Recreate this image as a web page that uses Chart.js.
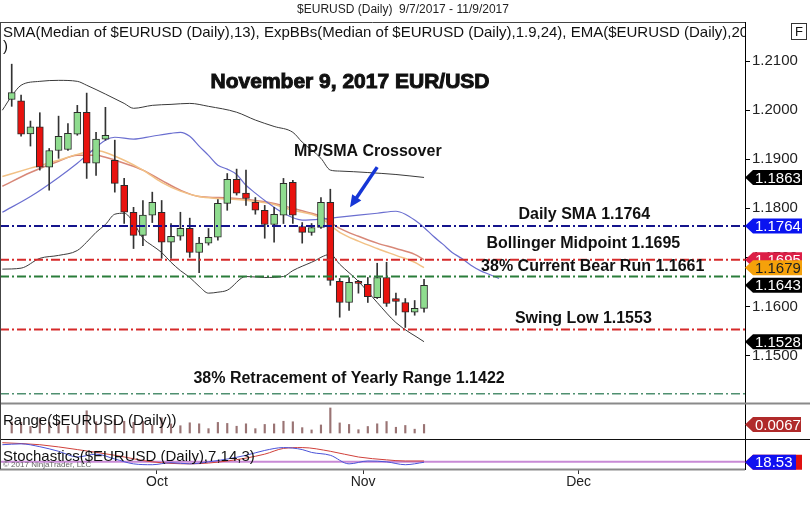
<!DOCTYPE html>
<html>
<head>
<meta charset="utf-8">
<script src="https://cdn.jsdelivr.net/npm/chart.js@4.4.0/dist/chart.umd.min.js"></script>
<style>
  html, body { margin: 0; padding: 0; background: #fff; }
  canvas { display: block; }
</style>
</head>
<body>
<canvas id="myChart" width="810" height="528" style="width:810px;height:528px"></canvas>
<script>
const fuente = '"Liberation Sans", Arial, sans-serif';
Chart.defaults.font.family = fuente;

// fechas de cada vela (eje x = índice de la vela)
const fechas = ["7/9","8/9","11/9","12/9","13/9","14/9","15/9","18/9","19/9","20/9","21/9","22/9","25/9","26/9","27/9","28/9","29/9",
  "2/10","3/10","4/10","5/10","6/10","9/10","10/10","11/10","12/10","13/10","16/10","17/10","18/10","19/10","20/10","23/10","24/10","25/10","26/10","27/10","30/10","31/10",
  "1/11","2/11","3/11","6/11","7/11","8/11","9/11"];

// marcas de mes (entre la última vela de un mes y la primera del siguiente)
const meses = ["Oct", "Nov", "Dec"];
const mesesPos = [16.5, 38.5, 61.5];

// velas diarias EUR/USD
const aperturas = [null, 1.2022, 1.2019, 1.1952, 1.1966, 1.1884, 1.1918, 1.1920, 1.1951, 1.1996,
  1.1892, 1.1941, 1.1898, 1.1847, 1.1792, 1.1745, 1.1786, 1.1792, 1.1731, 1.1743,
  1.1759, 1.1710, 1.1729, 1.1741, 1.1810, 1.1859, 1.1831, 1.1812, 1.1796, 1.1767,
  1.1786, 1.1853, 1.1763, 1.1751, 1.1761, 1.1812, 1.1651, 1.1608, 1.1651, 1.1645,
  1.1618, 1.1659, 1.1616, 1.1608, 1.1588, 1.1596];
const maximos = [null, 1.2094, 1.2031, 1.1978, 1.1995, 1.1922, 1.1988, 1.1973, 1.2010, 1.2035,
  1.1955, 1.2006, 1.1939, 1.1861, 1.1802, 1.1816, 1.1833, 1.1816, 1.1769, 1.1792,
  1.1780, 1.1741, 1.1759, 1.1818, 1.1871, 1.1880, 1.1878, 1.1822, 1.1806, 1.1802,
  1.1861, 1.1857, 1.1771, 1.1769, 1.1822, 1.1839, 1.1657, 1.1659, 1.1653, 1.1659,
  1.1688, 1.1690, 1.1627, 1.1616, 1.1612, 1.1655];
const minimos = [null, 1.2008, 1.1947, 1.1927, 1.1878, 1.1837, 1.1902, 1.1918, 1.1949, 1.1861,
  1.1867, 1.1939, 1.1833, 1.1769, 1.1718, 1.1724, 1.1771, 1.1698, 1.1698, 1.1735,
  1.1700, 1.1669, 1.1725, 1.1735, 1.1796, 1.1827, 1.1806, 1.1788, 1.1739, 1.1731,
  1.1769, 1.1769, 1.1729, 1.1745, 1.1759, 1.1643, 1.1578, 1.1592, 1.1627, 1.1608,
  1.1616, 1.1600, 1.1582, 1.1557, 1.1582, 1.1588];
const cierres = [null, 1.2036, 1.1951, 1.1966, 1.1884, 1.1918, 1.1947, 1.1953, 1.1996, 1.1892,
  1.1941, 1.1949, 1.1851, 1.1792, 1.1745, 1.1786, 1.1812, 1.1731, 1.1743, 1.1759,
  1.1710, 1.1729, 1.1741, 1.1810, 1.1859, 1.1831, 1.1820, 1.1796, 1.1767, 1.1788,
  1.1851, 1.1786, 1.1751, 1.1761, 1.1812, 1.1653, 1.1608, 1.1649, 1.1647, 1.1620,
  1.1659, 1.1606, 1.1610, 1.1588, 1.1596, 1.1643];

// indicadores (null = no leído, la línea une los puntos)
const bandaSup = [1.2000, 1.2029, 1.2051, null, 1.2059, null, 1.2061, null, 1.2059, 1.2051,
  null, 1.2033, null, 1.2014, 1.2004, null, 1.2010, null, 1.2012, null,
  1.2014, null, 1.2008, null, null, 1.1996, null, 1.1980, null, 1.1967,
  null, 1.1955, 1.1935, null, 1.1902, 1.1878, 1.1876, null, null, 1.1873,
  null, null, 1.1869, null, null, 1.1863];
const bandaInf = [1.1676, null, 1.1678, null, 1.1698, null, 1.1704, null, 1.1714, 1.1731,
  1.1751, 1.1767, 1.1788, 1.1790, 1.1771, 1.1739, 1.1724, 1.1710, 1.1690, 1.1673,
  1.1659, 1.1641, 1.1627, 1.1629, 1.1633, null, 1.1661, null, 1.1659, null,
  1.1661, 1.1673, null, 1.1690, null, 1.1706, 1.1686, null, 1.1651, null,
  1.1608, null, 1.1567, null, null, 1.1528];
const mediaBB = [1.1845, null, null, 1.1873, null, null, 1.1896, null, 1.1908, null,
  1.1908, 1.1904, null, 1.1892, null, 1.1878, null, 1.1857, null, 1.1837,
  null, 1.1824, null, 1.1822, null, 1.1820, null, 1.1816, null, 1.1810,
  null, 1.1800, null, 1.1790, 1.1784, null, 1.1759, null, 1.1743, null,
  1.1729, null, 1.1718, null, 1.1706, 1.1695];
const emaNaranja = [1.1865, null, null, 1.1882, null, null, 1.1898, null, 1.1910, null,
  1.1918, 1.1914, null, 1.1898, null, 1.1878, null, 1.1853, null, 1.1835,
  null, 1.1824, null, 1.1820, null, 1.1818, null, 1.1814, null, 1.1808,
  null, 1.1796, null, 1.1788, 1.1780, null, 1.1751, null, 1.1733, null,
  1.1718, null, 1.1704, null, 1.1690, 1.1679];
// SMA desplazada: sigue 8 velas más allá de la última
const smaAzul = [1.1792, null, null, 1.1824, null, null, 1.1863, null, 1.1892, 1.1908,
  null, 1.1939, 1.1945, null, 1.1941, null, 1.1947, null, 1.1953, 1.1955,
  1.1947, 1.1927, 1.1908, 1.1888, 1.1880, 1.1869, 1.1847, 1.1831, 1.1816, null,
  1.1790, null, 1.1776, null, 1.1778, null, 1.1782, null, 1.1786, null,
  1.1790, null, 1.1794, 1.1788, 1.1776, 1.1761, 1.1743, 1.1727, 1.1710, 1.1698,
  1.1684, 1.1673, 1.1665, 1.1657];

// panel Range
const rangos = [null, 0.0086, 0.0084, 0.0051, 0.0117, 0.0085, 0.0086, 0.0055, 0.0061, 0.0174,
  0.0088, 0.0067, 0.0106, 0.0092, 0.0084, 0.0092, 0.0062, 0.0118, 0.0071, 0.0057,
  0.0080, 0.0072, 0.0034, 0.0083, 0.0075, 0.0053, 0.0072, 0.0034, 0.0067, 0.0071,
  0.0092, 0.0088, 0.0042, 0.0024, 0.0063, 0.0196, 0.0079, 0.0067, 0.0026, 0.0051,
  0.0072, 0.0090, 0.0045, 0.0059, 0.0030, 0.0067];

// panel Stochastics
const stochK = [80, null, 83, null, 73, null, 57, null, 37, null,
  47, null, 30, null, 13, null, 10, null, 17, null,
  13, null, 20, null, 30, null, 43, null, 60, null,
  70, null, 63, 53, null, 43, null, 13, null, 23,
  null, 20, null, 10, null, 18.53];
const stochD = [87, null, null, null, 80, null, null, null, 63, null,
  null, null, 43, null, null, null, 20, null, null, null,
  13, null, null, null, 23, null, null, null, 47, null,
  67, null, 70, null, null, 57, null, null, 37, null,
  null, 27, null, 23, null, 23];
const nivelStoch = 20;

// niveles horizontales marcados
const nivelesNombres = ["Daily SMA", "Bollinger Midpoint", "38% Current Bear Run", "Swing Low", "38% Retracement of Yearly Range"];
const nivelesValores = [1.1764, 1.1695, 1.1661, 1.1553, 1.1422];

// etiquetas de valor en el eje derecho
const etiquetasValores = [1.1863, 1.1764, 1.1695, 1.1679, 1.1643, 1.1528];
const etiquetaRango = 0.0067;
const etiquetaStoch = 18.53;

const ejeXMin = -0.25;
const ejeXMax = 79.25;

//función que convierte una serie con huecos en puntos {x, y}
function puntos(serie) {
  return serie.map((v, i) => (v === null ? null : { x: i, y: v })).filter((p) => p);
}

const cuerpos = aperturas.map((o, i) => (o === null ? null : { x: i, y: [o, cierres[i]] })).filter((p) => p);
const mechas = maximos.map((h, i) => (h === null ? null : { x: i, y: [minimos[i], h] })).filter((p) => p);

const estilosNiveles = [
  { color: "#14148c", ancho: 2 },
  { color: "#d62a2a", ancho: 2 },
  { color: "#2a7d3a", ancho: 2 },
  { color: "#d62a2a", ancho: 2 },
  { color: "#4f9070", ancho: 1.5 },
];

const datasetsNiveles = nivelesValores.map((v, i) => ({
  type: "line",
  data: [{ x: ejeXMin, y: v }, { x: ejeXMax, y: v }],
  borderColor: estilosNiveles[i].color,
  borderWidth: estilosNiveles[i].ancho,
  borderDash: [9, 3, 2, 3],
  pointRadius: 0,
  yAxisID: "y",
  order: 0,
}));

function lineaIndicador(serie, color, ancho, eje) {
  return {
    type: "line",
    data: puntos(serie),
    borderColor: color,
    borderWidth: ancho,
    pointRadius: 0,
    cubicInterpolationMode: "monotone",
    yAxisID: eje,
    order: 3,
  };
}

//función que dibuja una etiqueta con punta hacia el eje
function etiqueta(ctx, x0, yc, texto, fondo, colorTexto, ancho) {
  const h = 15;
  ctx.beginPath();
  ctx.moveTo(x0, yc);
  ctx.lineTo(x0 + 8, yc - h / 2);
  ctx.lineTo(x0 + ancho, yc - h / 2);
  ctx.lineTo(x0 + ancho, yc + h / 2);
  ctx.lineTo(x0 + 8, yc + h / 2);
  ctx.closePath();
  ctx.fillStyle = fondo;
  ctx.fill();
  ctx.fillStyle = colorTexto;
  ctx.font = "15px " + fuente;
  ctx.textAlign = "left";
  ctx.textBaseline = "middle";
  ctx.fillText(texto, x0 + 10, yc + 1);
}

function linea(ctx, x1, x2, y, color, ancho) {
  ctx.beginPath();
  ctx.moveTo(x1, y);
  ctx.lineTo(x2, y);
  ctx.strokeStyle = color;
  ctx.lineWidth = ancho;
  ctx.stroke();
}

// posiciones de textos en unidades del gráfico (índice de vela, precio)
const notas = [
  { texto: "November 9, 2017 EUR/USD", x: 37.1, y: 1.2058, tam: 21, grueso: 1 },
  { texto: "MP/SMA Crossover", x: 39.0, y: 1.1915, tam: 16, grueso: 0 },
];
const notasNiveles = [
  { x: 62.1, y: 1.1787 },
  { x: 62.0, y: 1.1729 },
  { x: 63.0, y: 1.1682 },
  { x: 62.0, y: 1.1576 },
  { x: 37.0, y: 1.1452 },
];
const flecha = { x1: 40.0, y1: 1.1884, x2: 37.1, y2: 1.1802 };

const decoracion = {
  id: "decoracion",
  afterDraw(chart) {
    const ctx = chart.ctx;
    const area = chart.chartArea;
    const sx = chart.scales.x;
    const sy = chart.scales.y;
    const sr = chart.scales.yR;
    const ss = chart.scales.yS;
    const W = chart.width;
    ctx.save();

    // bordes de paneles
    linea(ctx, 0, area.right, sy.top + 0.5, "#444", 1);
    linea(ctx, 0, W, sy.bottom + 0.5, "#8a8a8a", 2);
    linea(ctx, 0, W, sr.bottom + 0.5, "#111", 1);
    linea(ctx, 0, area.right, ss.bottom + 0.5, "#8a8a8a", 2);
    ctx.beginPath();
    ctx.moveTo(0.5, sy.top);
    ctx.lineTo(0.5, ss.bottom);
    ctx.strokeStyle = "#444";
    ctx.lineWidth = 1;
    ctx.stroke();

    // título superior
    ctx.fillStyle = "#222";
    ctx.font = "12px " + fuente;
    ctx.textAlign = "center";
    ctx.textBaseline = "middle";
    ctx.fillText("$EURUSD (Daily)  9/7/2017 - 11/9/2017", 403, 10);

    // leyenda de indicadores
    ctx.save();
    ctx.beginPath();
    ctx.rect(0, 0, area.right, chart.height);
    ctx.clip();
    ctx.fillStyle = "#111";
    ctx.font = "15px " + fuente;
    ctx.textAlign = "left";
    ctx.fillText("SMA(Median of $EURUSD (Daily),13), ExpBBs(Median of $EURUSD (Daily),1.9,24), EMA($EURUSD (Daily),20", 3, 33);
    ctx.fillText(")", 3, 47);
    ctx.fillText("Range($EURUSD (Daily))", 3, 421);
    ctx.fillText("Stochastics($EURUSD (Daily),7,14,3)", 3, 457);
    ctx.fillStyle = "#666";
    ctx.font = "8px " + fuente;
    ctx.fillText("\u00a9 2017 NinjaTrader, LLC", 3, 465);
    ctx.restore();

    // recuadro "F"
    ctx.strokeStyle = "#333";
    ctx.lineWidth = 1;
    ctx.strokeRect(791.5, 23.5, 15, 16);
    ctx.fillStyle = "#111";
    ctx.font = "13px " + fuente;
    ctx.textAlign = "center";
    ctx.fillText("F", 799, 32);

    // textos
    ctx.textAlign = "center";
    ctx.textBaseline = "middle";
    ctx.fillStyle = "#111";
    ctx.strokeStyle = "#111";
    notas.forEach((n) => {
      ctx.font = "bold " + n.tam + "px " + fuente;
      const px = sx.getPixelForValue(n.x), py = sy.getPixelForValue(n.y);
      ctx.fillText(n.texto, px, py);
      if (n.grueso) {
        ctx.lineWidth = n.grueso;
        ctx.strokeText(n.texto, px, py);
      }
    });
    ctx.font = "bold 16px " + fuente;
    nivelesNombres.forEach((nombre, i) => {
      const p = notasNiveles[i];
      ctx.fillText(nombre + " " + nivelesValores[i].toFixed(4), sx.getPixelForValue(p.x), sy.getPixelForValue(p.y));
    });

    // flecha azul
    const ax1 = sx.getPixelForValue(flecha.x1), ay1 = sy.getPixelForValue(flecha.y1);
    const ax2 = sx.getPixelForValue(flecha.x2), ay2 = sy.getPixelForValue(flecha.y2);
    const ang = Math.atan2(ay2 - ay1, ax2 - ax1);
    ctx.strokeStyle = "#1636d6";
    ctx.fillStyle = "#1636d6";
    ctx.lineWidth = 3.5;
    ctx.beginPath();
    ctx.moveTo(ax1, ay1);
    ctx.lineTo(ax2 - 8 * Math.cos(ang), ay2 - 8 * Math.sin(ang));
    ctx.stroke();
    ctx.beginPath();
    ctx.moveTo(ax2, ay2);
    ctx.lineTo(ax2 - 12 * Math.cos(ang) + 5.5 * Math.sin(ang), ay2 - 12 * Math.sin(ang) - 5.5 * Math.cos(ang));
    ctx.lineTo(ax2 - 12 * Math.cos(ang) - 5.5 * Math.sin(ang), ay2 - 12 * Math.sin(ang) + 5.5 * Math.cos(ang));
    ctx.closePath();
    ctx.fill();

    // etiquetas de valor
    const x0 = area.right;
    const coloresEtiquetas = [
      ["#000", "#fff"], ["#0a14f0", "#fff"], ["#dc1e46", "#fff"],
      ["#f5a10a", "#222"], ["#000", "#fff"], ["#000", "#fff"],
    ];
    etiquetasValores.forEach((v, i) => {
      etiqueta(ctx, x0, sy.getPixelForValue(v), v.toFixed(4), coloresEtiquetas[i][0], coloresEtiquetas[i][1], 57);
    });
    etiqueta(ctx, x0, sr.getPixelForValue(etiquetaRango), etiquetaRango.toFixed(4), "#b02a2a", "#fff", 56);
    etiqueta(ctx, x0, ss.getPixelForValue(etiquetaStoch), "", "#e01010", "#fff", 57);
    etiqueta(ctx, x0, ss.getPixelForValue(etiquetaStoch), etiquetaStoch.toFixed(2), "#1010f0", "#fff", 51);
    ctx.restore();
  },
};

const config = {
  type: "bar",
  data: {
    datasets: [
      ...datasetsNiveles,
      {
        type: "bar",
        data: cuerpos,
        yAxisID: "y",
        grouped: false,
        barThickness: 7,
        minBarLength: 2,
        borderSkipped: false,
        borderWidth: 1,
        borderColor: "#2a2a2a",
        backgroundColor: (c) => (c.raw && c.raw.y[1] >= c.raw.y[0] ? "#8fdc8f" : "#e8120e"),
        order: 1,
      },
      {
        type: "bar",
        data: mechas,
        yAxisID: "y",
        grouped: false,
        barThickness: 1,
        borderWidth: 0,
        backgroundColor: "#333",
        order: 2,
      },
      lineaIndicador(bandaSup, "#3a3a3a", 1, "y"),
      lineaIndicador(bandaInf, "#3a3a3a", 1, "y"),
      lineaIndicador(smaAzul, "#6b6fd0", 1.2, "y"),
      lineaIndicador(emaNaranja, "#f2c185", 1.5, "y"),
      lineaIndicador(mediaBB, "#d88878", 1.5, "y"),
      {
        type: "bar",
        data: puntos(rangos),
        yAxisID: "yR",
        grouped: false,
        barThickness: 1.5,
        borderWidth: 0,
        backgroundColor: "#9a7474",
        order: 4,
      },
      {
        type: "line",
        data: [{ x: ejeXMin, y: nivelStoch }, { x: ejeXMax, y: nivelStoch }],
        yAxisID: "yS",
        borderColor: "#c98ad6",
        borderWidth: 2,
        pointRadius: 0,
        order: 5,
      },
      lineaIndicador(stochK, "#4a52d8", 1, "yS"),
      lineaIndicador(stochD, "#d0403a", 1, "yS"),
    ],
  },
  options: {
    responsive: false,
    animation: false,
    layout: { padding: { top: 22, left: 0, right: 0, bottom: 0 } },
    plugins: { legend: { display: false }, tooltip: { enabled: false } },
    scales: {
      x: {
        type: "linear",
        min: ejeXMin,
        max: ejeXMax,
        offset: false,
        afterBuildTicks: (s) => {
          s.ticks = mesesPos.map((v) => ({ value: v }));
        },
        ticks: {
          callback: (v, i) => meses[i],
          color: "#222",
          font: { size: 14 },
          padding: 0,
          autoSkip: false,
          maxRotation: 0,
        },
        grid: { offset: false, drawOnChartArea: false, drawTicks: true, tickLength: 5, color: "#333" },
        border: { display: false },
        afterFit: (s) => {
          s.height = 59;
        },
      },
      y: {
        type: "linear",
        position: "right",
        stack: "panel",
        stackWeight: 381,
        min: 1.1403,
        max: 1.218,
        ticks: {
          stepSize: 0.01,
          includeBounds: false,
          color: "#222",
          font: { size: 15 },
          padding: 2,
          callback: (v) => v.toFixed(4),
        },
        grid: { drawOnChartArea: false, drawTicks: true, tickLength: 5, color: "#000" },
        border: { display: true, color: "#000" },
        afterFit: (s) => {
          s.width = 65;
        },
      },
      yR: {
        type: "linear",
        position: "right",
        stack: "panel",
        stackWeight: 36,
        min: -0.0047,
        max: 0.0235,
        ticks: { display: false },
        grid: { display: false },
        border: { display: true, color: "#000" },
        afterFit: (s) => {
          s.width = 65;
        },
      },
      yS: {
        type: "linear",
        position: "right",
        stack: "panel",
        stackWeight: 30,
        min: -5,
        max: 100,
        ticks: { display: false },
        grid: { display: false },
        border: { display: true, color: "#000" },
        afterFit: (s) => {
          s.width = 65;
        },
      },
    },
  },
  plugins: [decoracion],
};

const myChart = document.getElementById("myChart");
const chart = new Chart(myChart, config);
</script>
</body>
</html>
